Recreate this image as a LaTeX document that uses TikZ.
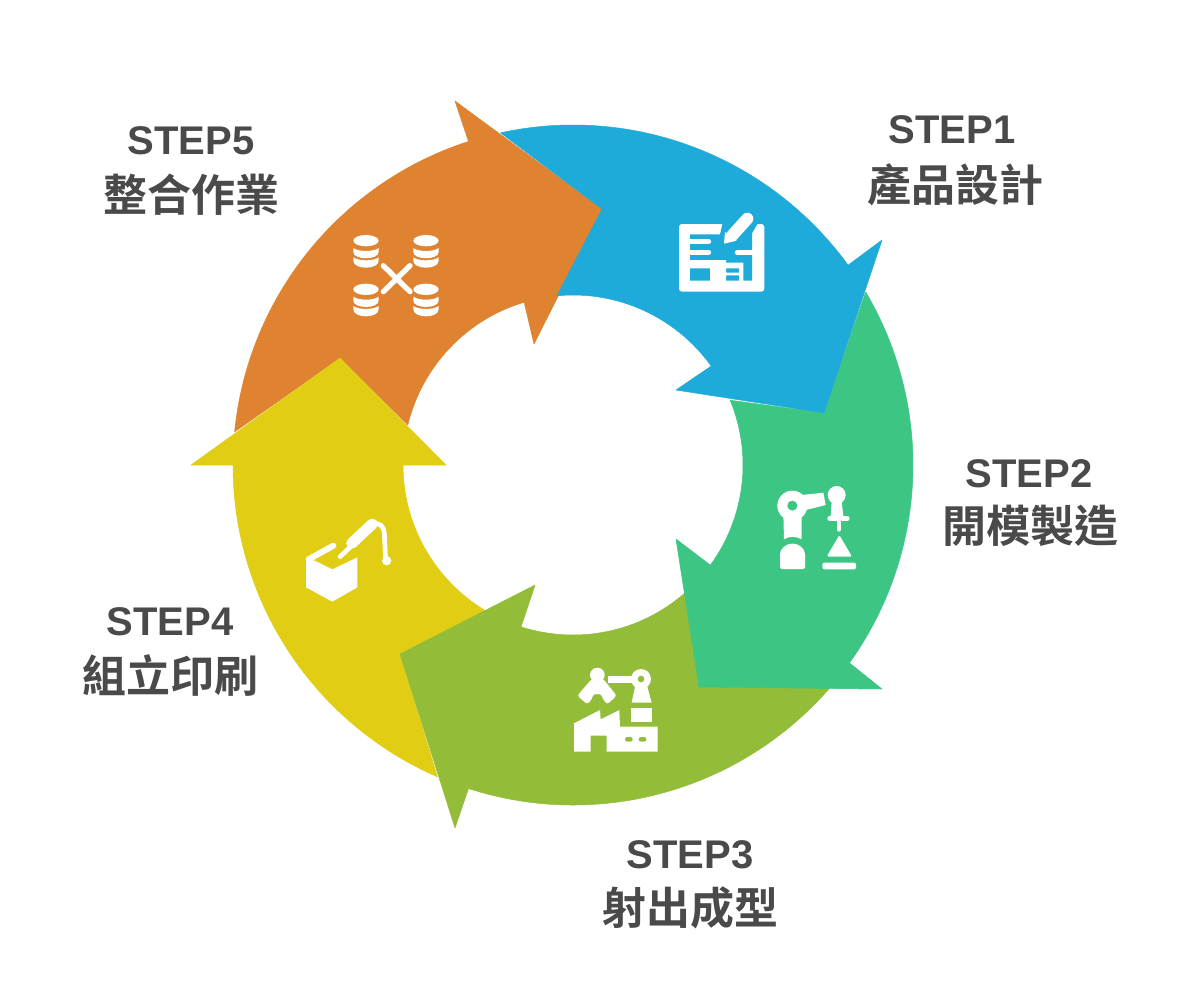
\documentclass[tikz,border=0pt]{standalone}
\usepackage{fontspec}
\usetikzlibrary{calc}
\setmainfont{Liberation Sans}
\newfontfamily\cjk{Noto Sans CJK TC}[BoldFont={Noto Sans CJK TC Bold}]
\definecolor{cblue}{HTML}{1EABDA}
\definecolor{cgreen}{HTML}{3DC584}
\definecolor{colive}{HTML}{93BD39}
\definecolor{cyellow}{HTML}{E0CD14}
\definecolor{corange}{HTML}{DF8331}
\definecolor{ctext}{HTML}{4A4A4A}
\tikzset{
  stepname/.style={text=ctext,font=\fontsize{40}{44}\selectfont\bfseries,inner sep=0pt},
  steptext/.style={text=ctext,font=\fontsize{44}{48}\selectfont\cjk\bfseries,inner sep=0pt},
  wl/.style={draw=white,line cap=round,line join=round},
  seg/.style={fill=#1,draw=#1,line width=0.5pt,line join=bevel},
}
\newcommand{\dbstack}[2]{%
  \begin{scope}[shift={(#1,#2)}]
    \fill[white] (0,0) ellipse[x radius=38,y radius=17];
    \fill[white] (-38,22) .. controls (-22,34) and (22,34) .. (38,22) -- (38,34) .. controls (38,59) and (-38,59) .. (-38,34) -- cycle;
    \fill[white] (-38,50) .. controls (-22,62) and (22,62) .. (38,50) -- (38,60) .. controls (38,88) and (-38,88) .. (-38,60) -- cycle;
  \end{scope}}
\begin{document}
\begin{tikzpicture}[x=1pt,y=-1pt]
\useasboundingbox (0,0) rectangle (1200,997);
\fill[white] (0,0) rectangle (1200,997);
\coordinate (c) at (573,465);
% orange
\path[seg=corange] ($(c)+(-174.4:340)$) arc[start angle=-174.4,end angle=-107.9,radius=340]
  -- (455,101) -- (602,209) -- (534,344) -- ($(c)+(-106.7:170)$)
  arc[start angle=-106.7,end angle=-166.4,radius=170] -- (340,358) -- cycle;
% yellow
\path[seg=cyellow] ($(c)+(113.5:340)$) arc[start angle=113.5,end angle=180,radius=340]
  -- (191,465) -- (340,358) -- (446,465) -- ($(c)+(180:170)$)
  arc[start angle=180,end angle=121.2,radius=170] -- (400,654) -- cycle;
% olive
\path[seg=colive] ($(c)+(41:340)$) arc[start angle=41,end angle=107.9,radius=340]
  -- (455,828) -- (400,654) -- (535,585) -- ($(c)+(107.8:170)$)
  arc[start angle=107.8,end angle=48.6,radius=170] -- (699,687) -- cycle;
% green
\path[seg=cgreen] ($(c)+(-30.6:340)$) arc[start angle=-30.6,end angle=35.6,radius=340]
  -- (882,689) -- (699,687) -- (676,539) -- ($(c)+(36.1:170)$)
  arc[start angle=36.1,end angle=-22.4,radius=170] -- (824,413) -- cycle;
% blue
\path[seg=cblue] ($(c)+(-102.3:340)$) arc[start angle=-102.3,end angle=-36,radius=340]
  -- (882,240) -- (824,413) -- (676,390) -- ($(c)+(-35.6:170)$)
  arc[start angle=-35.6,end angle=-95.4,radius=170] -- (602,209) -- cycle;

% icon 1
\begin{scope}[shift={(660,200)},scale=1/3]
  \fill[white,rounded corners=3pt] (57,72) rectangle (313,275);
  \fill[cblue] (90,103) -- (180,103) -- (190,62) -- (298,62) -- (276,100) -- (276,242) -- (90,242) -- cycle;
  \draw[wl,line width=5pt] (80,125) -- (146,125) (80,157) -- (146,157);
  \fill[white] (85,180) rectangle (198,205) (150,180) rectangle (198,245) (198,188) rectangle (250,205) (237,188) rectangle (250,245) (198,218) rectangle (237,226);
  \draw[wl,line width=5pt] (232,157) -- (285,157);
  \draw[wl,line width=12pt] (262,56) -- (217,106);
  \fill[white] (195,96) -- (192,131) -- (230,122) -- cycle;
\end{scope}
% icon 2
\begin{scope}[shift={(760,470)},scale=1/3]
  \fill[white] (97,107) circle[radius=45];
  \fill[white] (125,75) -- (190,68) -- (197,105) -- (130,122) -- cycle;
  \fill[cgreen] (97,107) circle[radius=15];
  \fill[white] (70,130) -- (125,130) -- (125,208) .. controls (110,198) and (85,198) .. (72,208) -- cycle;
  \fill[white,rounded corners=2pt] (60,297) -- (60,258) arc[start angle=180,end angle=360,radius=37.5] -- (135,297) -- cycle;
  \fill[white] (230,75) circle[radius=27];
  \fill[white] (215,95) -- (212,138) -- (250,138) -- (245,95) -- cycle;
  \draw[wl,line width=4.7pt] (209,145) -- (262,145) (237,150) -- (237,178);
  \fill[white,rounded corners=2pt] (238,195) -- (276,260) -- (200,260) -- cycle;
  \fill[white,rounded corners=2pt] (187,278) rectangle (288,298);
\end{scope}
% icon 3
\begin{scope}[shift={(560,655)},scale=1/3]
  \fill[white] (112,60) circle[radius=22];
  \fill[white,rounded corners=2.5pt] (95,72) -- (52,122) -- (82,148) -- (97,130) .. controls (100,115) and (124,115) .. (127,130) -- (142,148) -- (170,122) -- (130,72) -- cycle;
  \fill[white] (145,62) rectangle (215,85);
  \fill[white] (243,72) circle[radius=30];
  \fill[colive] (243,72) circle[radius=10];
  \fill[white] (225,95) -- (262,95) -- (275,143) -- (215,143) -- cycle;
  \fill[white] (212,158) rectangle (276,200);
  \fill[white] (42,205) -- (120,165) -- (122,193) -- (178,165) -- (180,215) -- (293,215) -- (293,290) -- (140,290) -- (140,242) -- (92,242) -- (92,290) -- (42,290) -- cycle;
  \fill[colive,rounded corners=2.3pt] (195,246) rectangle (218,260) (236,246) rectangle (259,260);
\end{scope}
% icon 4
\begin{scope}[shift={(295,510)},scale=1/3]
  \fill[white] (33,148) -- (60,152) -- (112,178) -- (187,142) -- (187,232) -- (112,275) -- (33,232) -- cycle;
  \draw[wl,line width=6pt] (115,107) -- (41,148);
  \draw[wl,line width=4.7pt] (135,140) -- (165,112);
  \draw[wl,line width=11pt] (170,100) -- (232,42);
  \draw[wl,line width=4.7pt] (232,40) .. controls (255,40) and (265,45) .. (268,70) -- (272,150);
  \fill[white] (275,152) circle[radius=14];
\end{scope}
% icon 5
\begin{scope}[shift={(340,225)},scale=1/3]
  \dbstack{78}{47}
  \dbstack{258}{47}
  \dbstack{78}{193}
  \dbstack{258}{193}
  \draw[wl,line width=5.3pt] (130,122) -- (210,200) (210,122) -- (130,200);
\end{scope}

\node[stepname] (s1) at (952,130) {STEP1};
\node[steptext] (t1) at (955,185) {產品設計};
\node[stepname] (s2) at (1029,474) {STEP2};
\node[steptext] (t2) at (1030,526) {開模製造};
\node[stepname] (s3) at (690,855) {STEP3};
\node[steptext] (t3) at (690,908) {射出成型};
\node[stepname] (s4) at (170,622) {STEP4};
\node[steptext] (t4) at (170,675) {組立印刷};
\node[stepname] (s5) at (191,141) {STEP5};
\node[steptext] (t5) at (191,195) {整合作業};
\end{tikzpicture}
\end{document}
